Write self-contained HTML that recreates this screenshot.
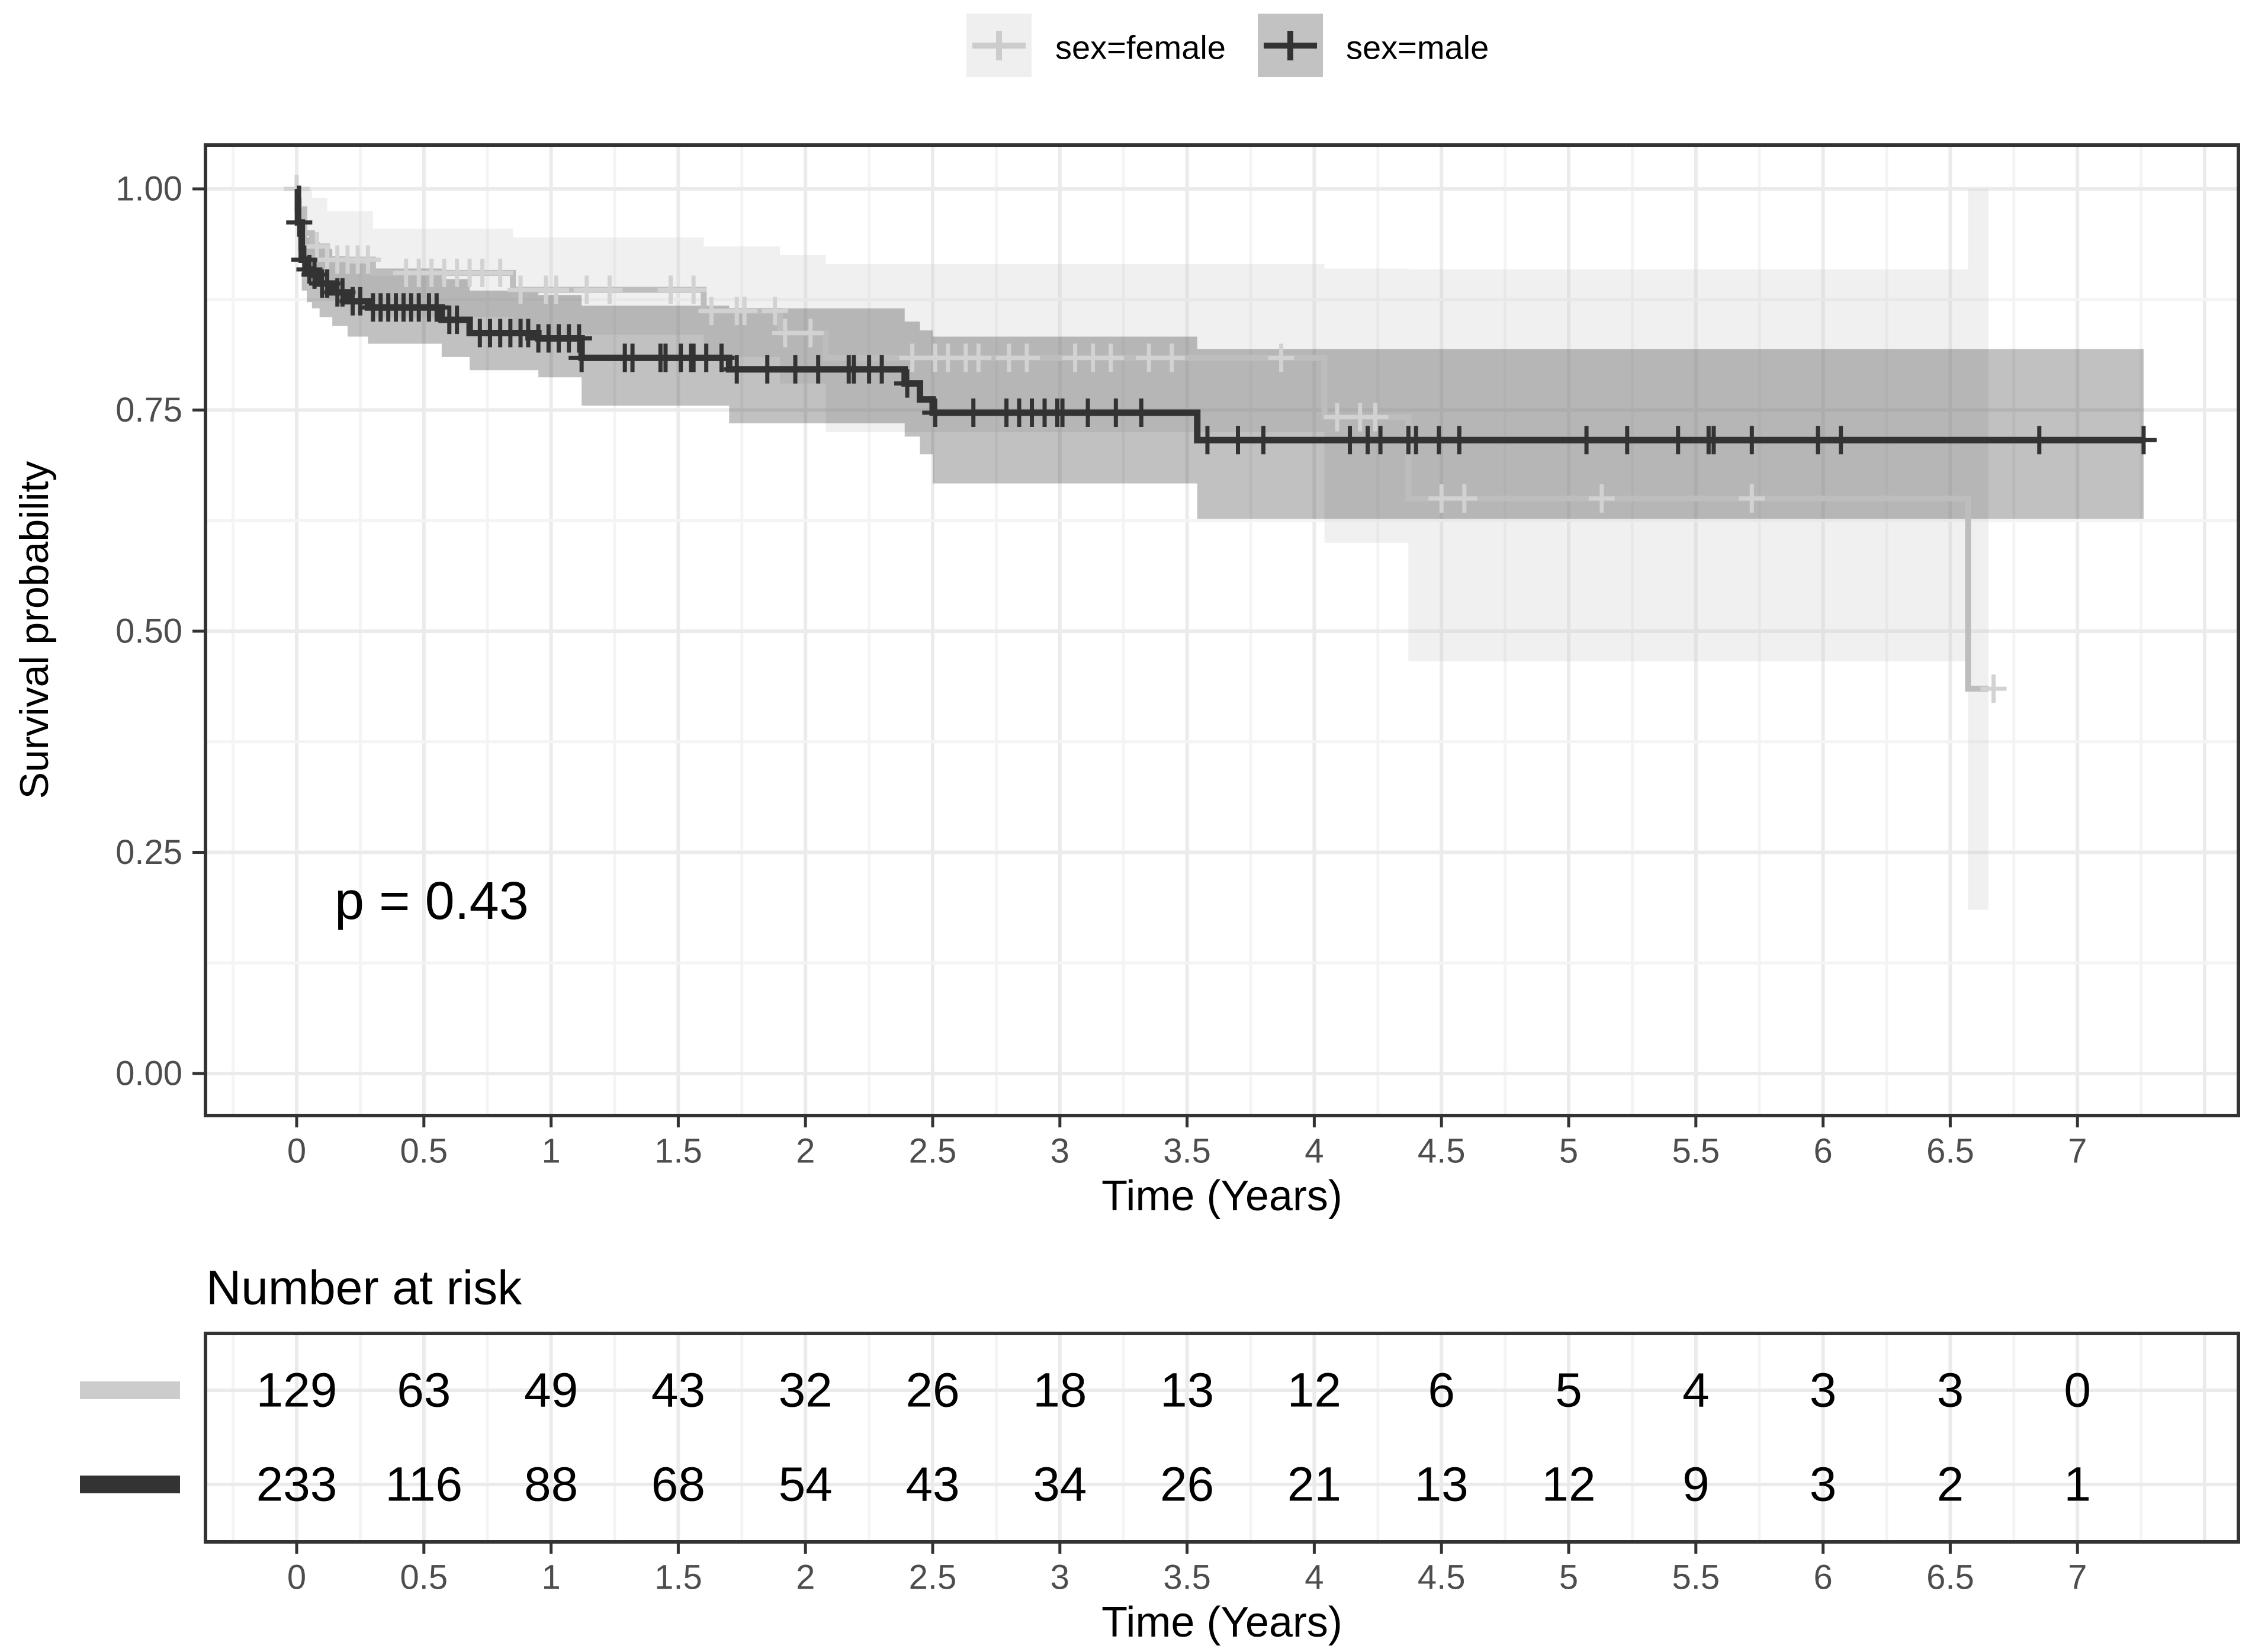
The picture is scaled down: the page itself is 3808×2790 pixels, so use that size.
<!DOCTYPE html>
<html><head><meta charset="utf-8"><style>
html,body{margin:0;padding:0;background:#fff}
svg{display:block}
text{font-family:"Liberation Sans",sans-serif}
</style></head><body>
<svg id="chart" width="3808" height="2790" viewBox="0 0 3808 2790" xmlns="http://www.w3.org/2000/svg">
<g id="main"></g>
<g id="legend"></g>
<g id="risk"></g>
</svg>
<script>
// ---------- data ----------
const femaleTimes = [0,0.003,0.03,0.06,0.12,0.3,0.85,1.6,1.9,2.08,4.04,4.37,6.57];
const femaleSurv  = [1,0.977,0.95,0.935,0.92,0.905,0.886,0.862,0.837,0.809,0.742,0.65,0.435];
const femaleUpper = [1,1,1,0.99,0.975,0.955,0.945,0.935,0.925,0.915,0.91,0.909,1.0];
const femaleLower = [1,0.95,0.91,0.89,0.875,0.855,0.835,0.81,0.78,0.725,0.60,0.466,0.185];
const femaleEnd = 6.65;
const femaleCensor = [0.0,0.08,0.12,0.16,0.2,0.24,0.28,0.43,0.48,0.53,0.58,0.63,0.68,0.73,0.8,0.88,0.98,1.02,1.14,1.23,1.47,1.56,1.63,1.73,1.76,1.88,1.92,2.02,2.42,2.51,2.56,2.63,2.68,2.8,2.87,3.06,3.13,3.2,3.35,3.44,3.87,4.09,4.18,4.24,4.5,4.59,5.13,5.72,6.67];

const maleTimes = [0,0.005,0.02,0.04,0.06,0.09,0.14,0.2,0.28,0.57,0.68,0.95,1.12,1.7,2.39,2.45,2.5,3.54];
const maleSurv  = [1,0.962,0.92,0.909,0.903,0.893,0.883,0.873,0.866,0.852,0.837,0.831,0.809,0.796,0.78,0.762,0.747,0.716];
const maleUpper = [1,0.99,0.955,0.945,0.94,0.932,0.924,0.916,0.91,0.898,0.885,0.88,0.868,0.865,0.85,0.84,0.833,0.819];
const maleLower = [1,0.93,0.885,0.872,0.865,0.855,0.845,0.833,0.825,0.81,0.795,0.787,0.755,0.735,0.72,0.7,0.667,0.627];
const maleEnd = 7.26;
const maleCensor = [0.01,0.03,0.05,0.07,0.1,0.12,0.16,0.18,0.22,0.25,0.3,0.33,0.36,0.39,0.42,0.45,0.48,0.52,0.55,0.6,0.63,0.72,0.76,0.8,0.84,0.88,0.91,0.95,0.99,1.03,1.07,1.11,1.12,1.29,1.32,1.43,1.45,1.51,1.55,1.56,1.61,1.67,1.73,1.85,1.96,2.05,2.17,2.19,2.25,2.3,2.4,2.51,2.66,2.79,2.84,2.89,2.94,2.99,3.01,3.11,3.22,3.32,3.58,3.7,3.8,4.14,4.21,4.26,4.37,4.4,4.49,4.57,5.07,5.23,5.43,5.55,5.57,5.72,5.98,6.07,6.85,7.26];

const xTicks = [0,0.5,1,1.5,2,2.5,3,3.5,4,4.5,5,5.5,6,6.5,7];
const xTickLabels = ["0","0.5","1","1.5","2","2.5","3","3.5","4","4.5","5","5.5","6","6.5","7"];
const yTicks = [0,0.25,0.5,0.75,1];
const yTickLabels = ["0.00","0.25","0.50","0.75","1.00"];
const riskFemale = [129,63,49,43,32,26,18,13,12,6,5,4,3,3,0];
const riskMale   = [233,116,88,68,54,43,34,26,21,13,12,9,3,2,1];

// ---------- layout ----------
const NS="http://www.w3.org/2000/svg";
const PL=347, PR=3780, PT=245, PB=1884;
const TT=2252, TB=2604;
const X0=501, XU=429.6;
const Y1=319, Y0=1813;
function xs(t){return X0+t*XU;}
function ys(p){return Y0-(Y0-Y1)*p;}
function mk(parent,tag,attrs){const e=document.createElementNS(NS,tag);for(const k in attrs)e.setAttribute(k,attrs[k]);parent.appendChild(e);return e;}

const main=document.getElementById('main');
const bg=mk(main,'rect',{x:PL,y:PT,width:PR-PL,height:PB-PT,fill:'#fff'});



function gridX(g,top,bot){
  const tmin=(PL-X0)/XU, tmax=(PR-X0)/XU;
  for(let k=Math.ceil(tmin*4);k<=Math.floor(tmax*4);k++){
    const t=k/4, major=(k%2===0);
    const l=mk(g,'line',{x1:xs(t),x2:xs(t),y1:top,y2:bot,stroke:major?'#ebebeb':'#f4f4f4','stroke-width':major?6:5});
    
    
  }
}
gridX(main,PT,PB);
for(let k=-1;k<=9;k++){
  const p=k/8; const y=ys(p); if(y<PT||y>PB)continue;
  const major=(k%2===0);
  const l=mk(main,'line',{x1:PL,x2:PR,y1:y,y2:y,stroke:major?'#ebebeb':'#f4f4f4','stroke-width':major?6:5});
  
  
}

function bandPath(times,up,lo,end){
  let d='M'+xs(times[0])+','+ys(up[0]);
  for(let i=0;i<times.length;i++){
    const nx=i+1<times.length?times[i+1]:end;
    d+=' V'+ys(up[i])+' H'+xs(nx);
  }
  for(let i=times.length-1;i>=0;i--){
    d+=' V'+ys(lo[i])+' H'+xs(times[i]);
  }
  return d+' Z';
}
function stepPath(times,s,end){
  let d='M'+xs(times[0])+','+ys(s[0]);
  for(let i=1;i<times.length;i++){d+=' H'+xs(times[i])+' V'+ys(s[i]);}
  return d+' H'+xs(end);
}
function survAt(times,s,t){let v=s[0];for(let i=0;i<times.length;i++){if(times[i]<=t)v=s[i];}return v;}

const fb=mk(main,'path',{d:bandPath(femaleTimes,femaleUpper,femaleLower,femaleEnd),fill:'#cccccc','fill-opacity':0.3});


const mb=mk(main,'path',{d:bandPath(maleTimes,maleUpper,maleLower,maleEnd),fill:'#333333','fill-opacity':0.3});



function series(times,s,end,censor,color,name,cross,w){
  const g=mk(main,'g',{});
  
  
  const p=mk(g,'path',{d:stepPath(times,s,end),fill:'none',stroke:color,'stroke-width':w});
  
  
  censor.forEach(t=>{
    const x=xs(t), y=ys(survAt(times,s,t));
    const c=mk(g,'path',{d:'M'+(x-22)+','+y+' H'+(x+22)+' M'+x+','+(y-24)+' V'+(y+24),stroke:cross,'stroke-width':7,fill:'none'});
    
    
  });
}
series(femaleTimes,femaleSurv,femaleEnd,femaleCensor,'#bdbdbd','female','#d2d2d2',10);
series(maleTimes,maleSurv,maleEnd,maleCensor,'#333333','male','#333333',11);

const border=mk(main,'rect',{x:PL,y:PT,width:PR-PL,height:PB-PT,fill:'none',stroke:'#333','stroke-width':6});



yTicks.forEach((v,i)=>{
  const y=ys(v);
  const tk=mk(main,'line',{x1:PL-22,x2:PL,y1:y,y2:y,stroke:'#333','stroke-width':5});
  
  
  const tx=mk(main,'text',{x:308,y:y,'text-anchor':'end','dominant-baseline':'central','font-size':58,fill:'#4d4d4d'});
  tx.textContent=yTickLabels[i];
  
  
});
function xAxis(g,bot,prefix){
  xTicks.forEach((v,i)=>{
    const x=xs(v);
    const tk=mk(g,'line',{x1:x,x2:x,y1:bot,y2:bot+20,stroke:'#333','stroke-width':5});
    
    
    const tx=mk(g,'text',{x:x,y:bot+60,'text-anchor':'middle','dominant-baseline':'central','font-size':58,fill:'#4d4d4d'});
    tx.textContent=xTickLabels[i];
    
    
  });
  const tt=mk(g,'text',{x:(PL+PR)/2,y:bot+136,'text-anchor':'middle','dominant-baseline':'central','font-size':72,fill:'#000'});
  tt.textContent='Time (Years)';
  
  
}
xAxis(main,PB,'');
const yt=mk(main,'text',{x:58,y:1064,'text-anchor':'middle','dominant-baseline':'central','font-size':68,fill:'#000',transform:'rotate(-90 58 1064)'});
yt.textContent='Survival probability';


const pv=mk(main,'text',{x:565,y:1522,'dominant-baseline':'central','font-size':90,fill:'#000'});
pv.textContent='p = 0.43';



const leg=document.getElementById('legend');
[['sex=female',1632,'#efefef','#cccccc',1782],['sex=male',2124,'#c2c2c2','#333333',2273]].forEach(([lab,bx,bf,lc,tx])=>{
  const g=mk(leg,'g',{});
  
  
  const r=mk(g,'rect',{x:bx,y:23,width:110,height:107,fill:bf});
  
  
  const l=mk(g,'path',{d:'M'+(bx+10)+',77 H'+(bx+100)+' M'+(bx+55)+',52 V102',stroke:lc,'stroke-width':10,fill:'none'});
  
  
  const t=mk(g,'text',{x:tx,y:80,'dominant-baseline':'central','font-size':56,fill:'#000'});
  t.textContent=lab;
  
  
});

const risk=document.getElementById('risk');
const rt=mk(risk,'text',{x:348,y:2175,'dominant-baseline':'central','font-size':82,fill:'#000'});
rt.textContent='Number at risk';


const rbg=mk(risk,'rect',{x:PL,y:TT,width:PR-PL,height:TB-TT,fill:'#fff'});


gridX(risk,TT,TB);
const rowY=[2348,2507];
rowY.forEach(y=>{
  const l=mk(risk,'line',{x1:PL,x2:PR,y1:y,y2:y,stroke:'#ebebeb','stroke-width':6});
  
  
});
[[riskFemale,rowY[0],'#cccccc','female'],[riskMale,rowY[1],'#333333','male']].forEach(([arr,y,col,nm])=>{
  const bar=mk(risk,'rect',{x:135,y:y-15,width:169,height:30,fill:col});
  
  
  arr.forEach((v,i)=>{
    const t=mk(risk,'text',{x:xs(xTicks[i]),y:y,'text-anchor':'middle','dominant-baseline':'central','font-size':82,fill:'#000'});
    t.textContent=String(v);
    
    
  });
});
const rb=mk(risk,'rect',{x:PL,y:TT,width:PR-PL,height:TB-TT,fill:'none',stroke:'#333','stroke-width':6});


xAxis(risk,TB,'risk-');
</script>
</body></html>
